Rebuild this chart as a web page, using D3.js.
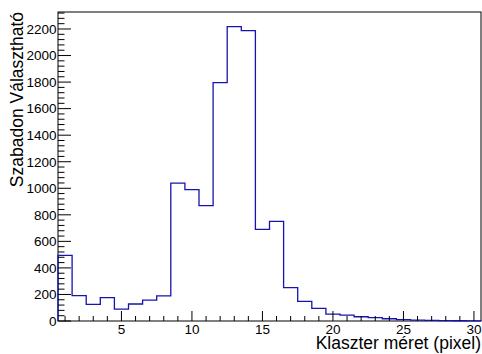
<!DOCTYPE html>
<html>
<head>
<meta charset="utf-8">
<script src="https://cdn.jsdelivr.net/npm/d3@7/dist/d3.min.js"></script>
<style>
  html, body { margin: 0; padding: 0; background: #fff; }
  svg { display: block; }
  text { font-family: "Liberation Sans", Arial, Helvetica, sans-serif; fill: #000; }
</style>
</head>
<body>
<svg id="chart" width="482" height="354"></svg>
<script>
// Bin centres (cluster size, pixel) and counts
const binCenters = [1,2,3,4,5,6,7,8,9,10,11,12,13,14,15,16,17,18,19,20,21,22,23,24,25,26,27,28,29,30];
const counts = [495,191,126,176,90,128,158,189,1038,990,869,1796,2218,2188,691,751,251,148,95,52,45,32,25,17,10,7,5,3,2,1];
const xTicks = [5,10,15,20,25,30];
const yTicks = [0,200,400,600,800,1000,1200,1400,1600,1800,2000,2200];
const xTitle = "Klaszter méret (pixel)";
const yTitle = "Szabadon Választható";

const svg = d3.select("#chart");
const L = 58, R = 481, T = 12, B = 321;
const x = d3.scaleLinear().domain([0.5, 30.5]).range([L, R]);
const y = d3.scaleLinear().domain([0, 2328]).range([B, T]);

// frame
svg.append("rect").attr("x", L).attr("y", T).attr("width", R - L).attr("height", B - T)
  .attr("fill", "none").attr("stroke", "#000").attr("stroke-width", 1);

// histogram outline
const pts = [[0.5, 0]];
binCenters.forEach((c, i) => {
  pts.push([c - 0.5, counts[i]]);
  pts.push([c + 0.5, counts[i]]);
});
pts.push([30.5, 0]);
const line = d3.line().x(d => x(d[0])).y(d => y(d[1]));
svg.append("path").attr("d", line(pts)).attr("fill", "none")
  .attr("stroke", "#1414b0").attr("stroke-width", 1.3);

// x ticks (major + minor, pointing inward)
const xMinor = d3.range(1, 31);
svg.append("g").selectAll("line").data(xMinor).join("line")
  .attr("x1", d => x(d)).attr("x2", d => x(d))
  .attr("y1", B).attr("y2", d => xTicks.includes(d) ? B - 10 : B - 5)
  .attr("stroke", "#000").attr("stroke-width", 1);
svg.append("g").selectAll("text").data(xTicks).join("text")
  .attr("x", d => x(d)).attr("y", 334).attr("text-anchor", "middle")
  .attr("font-size", 13.5).text(d => d);

// y ticks
const yMinor = d3.range(0, 2328, 40);
svg.append("g").selectAll("line").data(yMinor).join("line")
  .attr("x1", L).attr("x2", d => (d % 200 === 0) ? L + 13 : L + 6.5)
  .attr("y1", d => y(d)).attr("y2", d => y(d))
  .attr("stroke", "#000").attr("stroke-width", 1);
svg.append("g").selectAll("text").data(yTicks).join("text")
  .attr("x", 56.5).attr("y", d => y(d)).attr("dy", "0.36em").attr("text-anchor", "end")
  .attr("font-size", 13.5).text(d => d);

// axis titles
svg.append("text").attr("x", R).attr("y", 348.5).attr("text-anchor", "end")
  .attr("font-size", 17.5).text(xTitle);
svg.append("text").attr("transform", `translate(23,${T}) rotate(-90)`)
  .attr("text-anchor", "end").attr("font-size", 17.5).text(yTitle);
</script>
</body>
</html>
